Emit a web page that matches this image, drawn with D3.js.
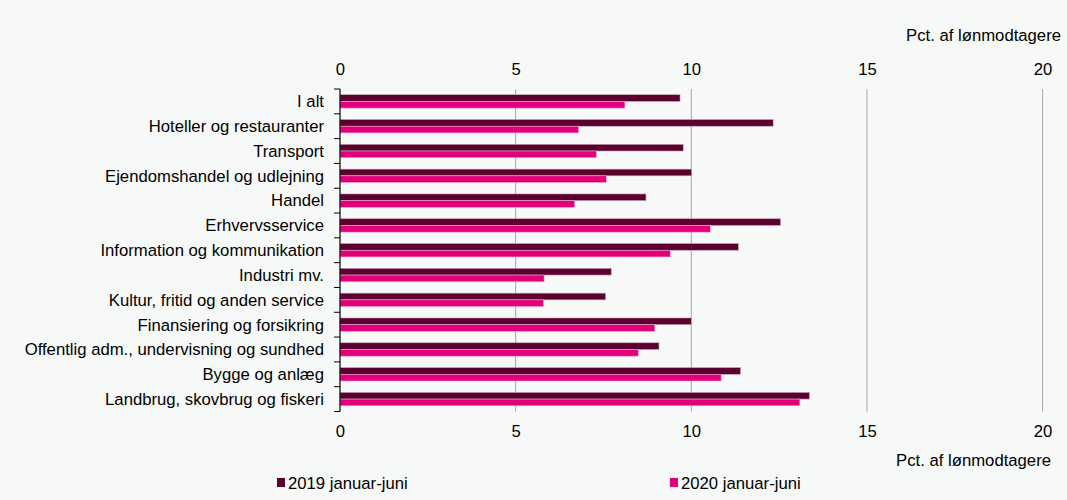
<!DOCTYPE html>
<html>
<head>
<meta charset="utf-8">
<script src="https://cdn.jsdelivr.net/npm/d3@7"></script>
<style>
  html, body { margin: 0; padding: 0; background: #f7f9f8; }
  svg { display: block; }
  text { font-family: "Liberation Sans", Arial, sans-serif; fill: #000; }
</style>
</head>
<body>
<svg id="chart" width="1067" height="500"></svg>
<script>
const categories = [
  "I alt",
  "Hoteller og restauranter",
  "Transport",
  "Ejendomshandel og udlejning",
  "Handel",
  "Erhvervsservice",
  "Information og kommunikation",
  "Industri mv.",
  "Kultur, fritid og anden service",
  "Finansiering og forsikring",
  "Offentlig adm., undervisning og sundhed",
  "Bygge og anlæg",
  "Landbrug, skovbrug og fiskeri"
];
const seriesNames = ["2019 januar-juni", "2020 januar-juni"];
const values2019 = [9.68, 12.33, 9.77, 10.01, 8.71, 12.54, 11.34, 7.72, 7.56, 10.0, 9.08, 11.40, 13.36];
const values2020 = [8.11, 6.79, 7.30, 7.58, 6.68, 10.54, 9.40, 5.81, 5.79, 8.96, 8.49, 10.85, 13.09];
const tickValues = [0, 5, 10, 15, 20];
const unitLabel = "Pct. af lønmodtagere";
const colors = ["#5c0030", "#e2007a"];

(function () {
const FS = 16.7;
const svg = d3.select("#chart");
const mLeft = 340, mRight = 1042.6, mTop = 89, mBottom = 411.5;

const x = d3.scaleLinear().domain([0, 20]).range([mLeft, mRight]);
const y = d3.scaleBand().domain(categories).range([mTop, mBottom])
  .paddingInner(0.46).paddingOuter(0.23);
const ySub = d3.scaleBand().domain(seriesNames).range([0, y.bandwidth()]);

// gridlines
svg.append("g").selectAll("line")
  .data(tickValues.filter(d => d > 0))
  .join("line")
  .attr("x1", d => x(d)).attr("x2", d => x(d))
  .attr("y1", mTop).attr("y2", mBottom)
  .attr("stroke", "#a6a6a6").attr("stroke-width", 1);

// bars
const rows = categories.map((c, i) => ({ cat: c, vals: [values2019[i], values2020[i]] }));
const groups = svg.append("g").selectAll("g")
  .data(rows).join("g")
  .attr("transform", d => `translate(0,${y(d.cat)})`);
groups.selectAll("rect")
  .data(d => d.vals.map((v, k) => ({ v, k })))
  .join("rect")
  .attr("x", x(0))
  .attr("y", d => ySub(seriesNames[d.k]))
  .attr("width", d => x(d.v) - x(0))
  .attr("height", ySub.bandwidth())
  .attr("fill", d => colors[d.k])
  .attr("stroke", d => d.k === 0 ? "#c9a3b6" : "#f0a8cf")
  .attr("stroke-width", 0.6);

// left axis line and ticks at band boundaries
const step = y.step();
const boundaries = d3.range(categories.length + 1).map(i => mTop + i * step);
svg.append("line")
  .attr("x1", mLeft).attr("x2", mLeft).attr("y1", mTop).attr("y2", mBottom)
  .attr("stroke", "#000").attr("stroke-width", 1.2);
svg.append("g").selectAll("line")
  .data(boundaries).join("line")
  .attr("x1", mLeft - 6).attr("x2", mLeft)
  .attr("y1", d => d).attr("y2", d => d)
  .attr("stroke", "#000").attr("stroke-width", 1);

// category labels
svg.append("g").selectAll("text")
  .data(categories).join("text")
  .attr("x", 324)
  .attr("y", (d, i) => mTop + i * step + step / 2)
  .attr("dy", "0.35em")
  .attr("text-anchor", "end")
  .attr("font-size", FS)
  .text(d => d);

// top and bottom axes (tick labels only)
const axTop = d3.axisTop(x).tickValues(tickValues).tickSize(0).tickPadding(0);
const axBot = d3.axisBottom(x).tickValues(tickValues).tickSize(0).tickPadding(0);
const gTop = svg.append("g").attr("transform", "translate(0,75)").call(axTop);
const gBot = svg.append("g").attr("transform", "translate(0,425)").call(axBot);
[gTop, gBot].forEach(g => {
  g.select(".domain").remove();
  g.selectAll("text").attr("font-size", FS).attr("font-family", "Liberation Sans, Arial, sans-serif").attr("fill", "#000");
});
gTop.selectAll("text").attr("dy", 0);
gBot.selectAll("text").attr("dy", "0.71em");

// unit labels
svg.append("text").attr("x", 1061).attr("y", 41).attr("text-anchor", "end")
  .attr("font-size", FS).text(unitLabel);
svg.append("text").attr("x", 1051).attr("y", 466).attr("text-anchor", "end")
  .attr("font-size", FS).text(unitLabel);

// legend
const legendX = [277, 670];
const leg = svg.append("g").selectAll("g")
  .data(seriesNames).join("g")
  .attr("transform", (d, i) => `translate(${legendX[i]},0)`);
leg.append("rect").attr("x", 0).attr("y", 478).attr("width", 8).attr("height", 9)
  .attr("fill", (d, i) => colors[i]);
leg.append("text").attr("x", 11).attr("y", 489).attr("font-size", FS).text(d => d);
})();
</script>
</body>
</html>
